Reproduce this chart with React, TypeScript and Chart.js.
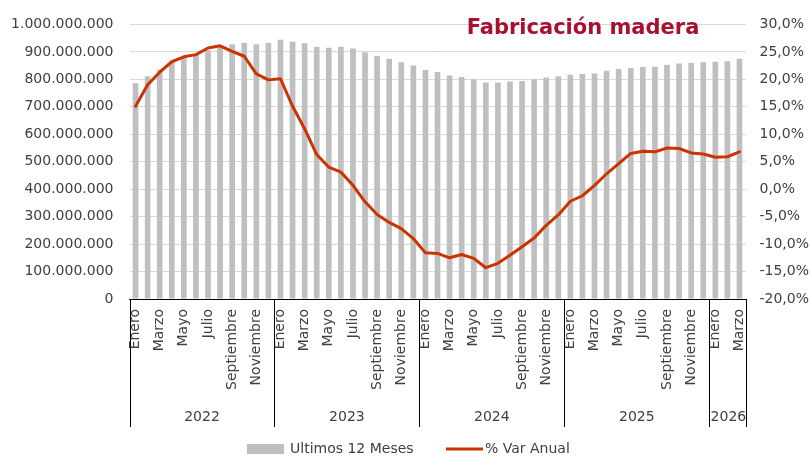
import React, { useEffect, useRef } from "react";
import { Chart, registerables } from "chart.js";

Chart.register(...registerables);

const monthNames = [
  "Enero", "Febrero", "Marzo", "Abril", "Mayo", "Junio",
  "Julio", "Agosto", "Septiembre", "Octubre", "Noviembre", "Diciembre",
];
const years = ["2022", "2023", "2024", "2025", "2026"];
const monthsPerYear = [12, 12, 12, 12, 3];

const categories: string[] = [];
years.forEach((y, yi) => {
  for (let m = 0; m < monthsPerYear[yi]; m++) categories.push(monthNames[m] + " " + y);
});

// Ultimos 12 Meses (values)
const ultimos12Meses = [
  786e6, 811e6, 835e6, 861e6, 881e6, 891e6, 906e6, 920e6, 928e6, 932e6, 928e6, 932e6,
  944e6, 937e6, 931e6, 918e6, 915e6, 919e6, 912e6, 899e6, 885e6, 875e6, 862e6, 850e6,
  834e6, 827e6, 814e6, 808e6, 800e6, 788e6, 788e6, 792e6, 794e6, 800e6, 807e6, 811e6,
  817e6, 819e6, 821e6, 831e6, 838e6, 841e6, 845e6, 846e6, 853e6, 858e6, 859e6, 862e6,
  864e6, 866e6, 875e6,
];

// % Var Anual
const varAnual = [
  15.1, 19.0, 21.3, 23.2, 24.1, 24.5, 25.7, 26.1, 25.1, 24.2, 21.0, 19.9,
  20.1, 15.1, 11.0, 6.3, 4.0, 3.1, 0.7, -2.3, -4.6, -6.05, -7.2, -9.0,
  -11.6, -11.7, -12.5, -11.9, -12.6, -14.3, -13.5, -12.05, -10.5, -8.9, -6.6, -4.7,
  -2.2, -1.2, 0.7, 2.8, 4.65, 6.5, 6.9, 6.8, 7.5, 7.4, 6.6, 6.4,
  5.8, 5.9, 6.8,
];

const leftTicks = { min: 0, max: 1e9, step: 1e8 };
const rightTicks = { min: -20, max: 30, step: 5 };

const FONT = "'DejaVu Sans', sans-serif";
const TEXT = "#404040";
const BAR = "#BFBFBF";
const LINE = "#CC3300";
const TITLE = "#A8102E";

function fmtThousands(v: number) {
  return String(Math.round(v)).replace(/\B(?=(\d{3})+(?!\d))/g, ".");
}

const decorPlugin = {
  id: "decor",
  afterDraw(chart: any) {
    const ctx = chart.ctx;
    const x = chart.scales.x;
    const n = categories.length;
    const pitch = x.getPixelForValue(1) - x.getPixelForValue(0);
    const top = x.top;
    const bottom = 427;
    ctx.save();
    // separators
    ctx.strokeStyle = "#000";
    ctx.lineWidth = 1;
    let idx = 0;
    const bounds: number[] = [0];
    monthsPerYear.forEach((c) => { idx += c; bounds.push(idx); });
    ctx.beginPath();
    bounds.forEach((b) => {
      const px = Math.round(x.getPixelForValue(b) - pitch / 2) + 0.5;
      ctx.moveTo(px, top);
      ctx.lineTo(px, bottom);
    });
    ctx.stroke();
    // years
    ctx.fillStyle = TEXT;
    ctx.font = `14px ${FONT}`;
    ctx.textAlign = "center";
    ctx.textBaseline = "middle";
    years.forEach((y, i) => {
      const a = x.getPixelForValue(bounds[i]) - pitch / 2;
      const b = x.getPixelForValue(bounds[i + 1]) - pitch / 2;
      ctx.fillText(y, (a + b) / 2 + (i === years.length - 1 ? 1 : 0), 417);
    });
    // title
    ctx.fillStyle = TITLE;
    ctx.font = `bold 21px ${FONT}`;
    ctx.textAlign = "center";
    ctx.fillText("Fabricación madera", 583, 29);
    // legend
    ctx.fillStyle = BAR;
    ctx.fillRect(247, 444, 37, 10);
    ctx.fillStyle = TEXT;
    ctx.font = `14px ${FONT}`;
    ctx.textAlign = "left";
    ctx.fillText("Ultimos 12 Meses", 290, 449.5);
    ctx.strokeStyle = LINE;
    ctx.lineWidth = 3;
    ctx.beginPath();
    ctx.moveTo(446, 449);
    ctx.lineTo(483, 449);
    ctx.stroke();
    ctx.fillText("% Var Anual", 485, 449.5);
    ctx.restore();
  },
};

export default function App() {
  const ref = useRef<HTMLCanvasElement | null>(null);
  useEffect(() => {
    if (!ref.current) return;
    const chart = new Chart(ref.current, {
      type: "bar",
      data: {
        labels: categories,
        datasets: [
          {
            type: "line",
            label: "% Var Anual",
            data: varAnual,
            yAxisID: "y1",
            borderColor: LINE,
            backgroundColor: LINE,
            borderWidth: 3,
            pointRadius: 0,
            tension: 0,
            borderJoinStyle: "round",
            borderCapStyle: "round",
            order: 0,
          } as any,
          {
            type: "bar",
            label: "Ultimos 12 Meses",
            data: ultimos12Meses,
            yAxisID: "y",
            backgroundColor: BAR,
            barPercentage: 0.47,
            categoryPercentage: 1,
            order: 1,
          } as any,
        ],
      },
      options: {
        animation: false,
        responsive: true,
        maintainAspectRatio: false,
        layout: { padding: { top: 15.7, left: 0, right: 0, bottom: 0 } },
        plugins: { legend: { display: false }, tooltip: { enabled: false } },
        scales: {
          x: {
            type: "category",
            offset: true,
            grid: { display: false, drawTicks: false },
            border: { display: true, color: "#000", width: 1 },
            ticks: {
              autoSkip: false,
              maxRotation: 90,
              minRotation: 90,
              padding: 10,
              color: TEXT,
              font: { family: FONT, size: 14 },
              callback: (_v: any, i: number) => (i % 12) % 2 === 0 ? categories[i].split(" ")[0] : "",
            },
            afterFit: (s: any) => { s.height = 159; },
          },
          y: {
            position: "left",
            min: leftTicks.min,
            max: leftTicks.max,
            grid: { color: "#D9D9D9", drawTicks: false },
            border: { display: false },
            ticks: {
              stepSize: leftTicks.step,
              padding: 16,
              color: TEXT,
              font: { family: FONT, size: 14 },
              callback: (v: any) => fmtThousands(Number(v)),
            },
            afterFit: (s: any) => { s.width = 129.5; },
          },
          y1: {
            position: "right",
            min: rightTicks.min,
            max: rightTicks.max,
            grid: { display: false, drawTicks: false },
            border: { display: false },
            ticks: {
              stepSize: rightTicks.step,
              padding: 14,
              color: TEXT,
              font: { family: FONT, size: 14 },
              callback: (v: any) => Number(v).toFixed(1).replace(".", ",") + "%",
            },
            afterFit: (s: any) => { s.width = 65.5; },
          },
        },
      },
      plugins: [decorPlugin],
    });
    return () => chart.destroy();
  }, []);
  return (
    <div style={{ position: "fixed", left: 0, top: 0, width: 811, height: 458, background: "#fff" }}>
      <canvas ref={ref} />
    </div>
  );
}
